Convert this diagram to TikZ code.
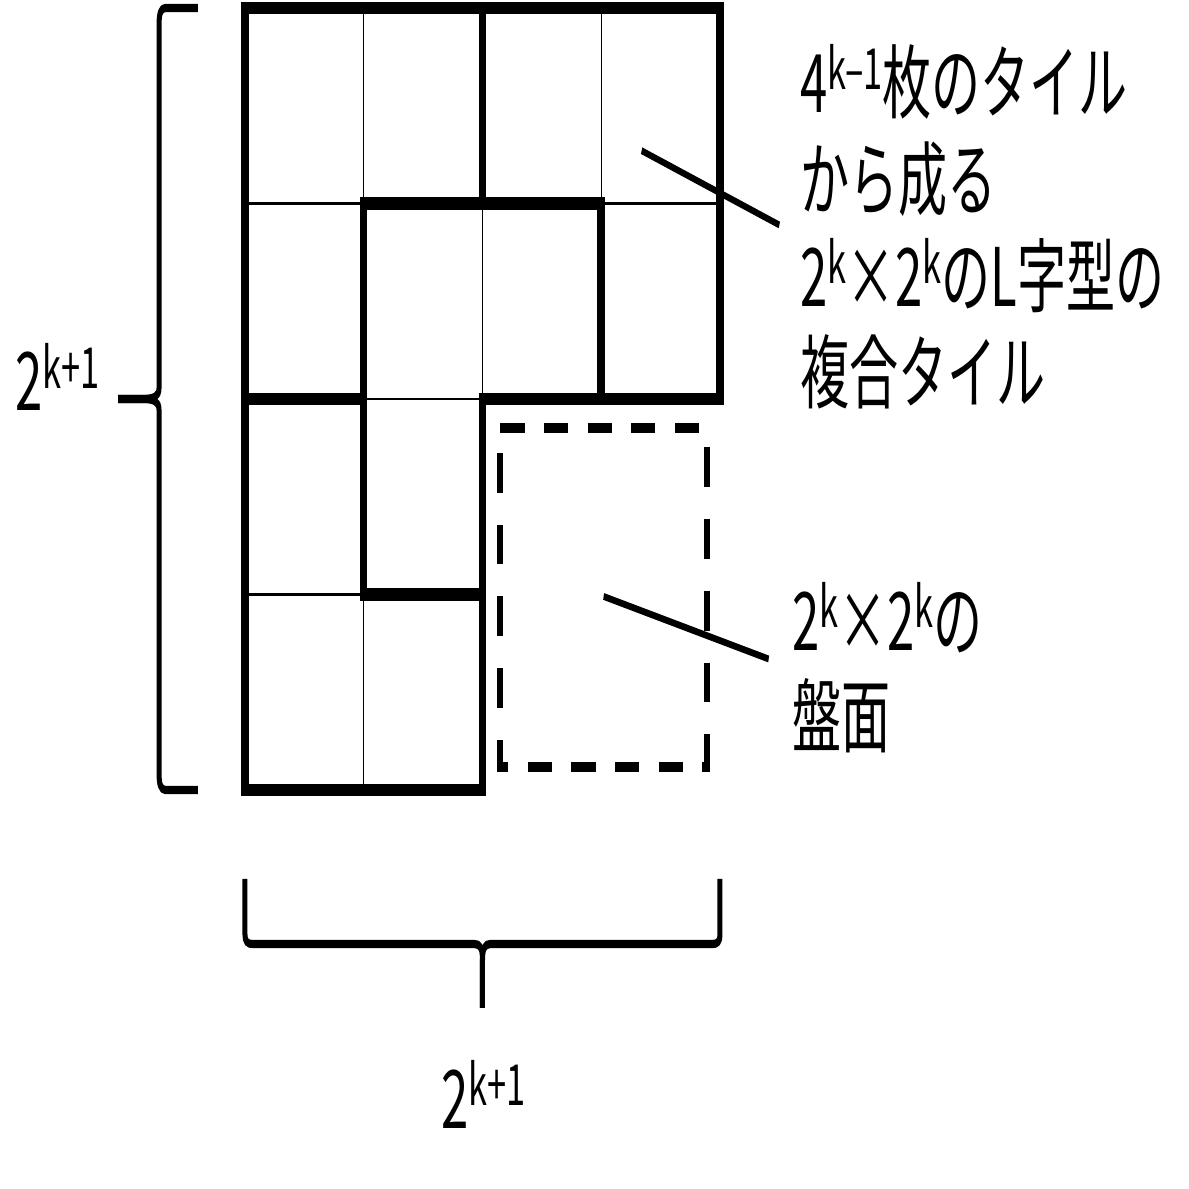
\documentclass[tikz,border=0pt]{standalone}
\usepackage{fontspec}
\setmainfont{Noto Sans CJK JP}
\usetikzlibrary{positioning}
\newcommand{\sups}[1]{\raisebox{6.5pt}{\fontsize{16.5}{16.5}\selectfont #1}}

\begin{document}
\begin{tikzpicture}[x=2cm, y=2cm,
    gridline/.style={line width=0.6pt},
    tileedge/.style={line width=3.6pt, line cap=rect, line join=miter},
    boardedge/.style={line width=2.9pt, dash pattern=on 11.6pt off 9.3pt},
    leader/.style={line width=2pt},
    bracepath/.style={line width=2.4pt, line join=round},
    lbl/.style={inner sep=0pt, font=\fontsize{23.5}{28.2}\selectfont, align=left}]
    \useasboundingbox (-1.2531,-2.0409) rectangle (4.8286,4.0409);
    \begin{scope}[transform canvas={xscale=0.6074}]
    \draw[gridline] (1,0) -- (1,4) (2,2) -- (2,4) (3,2) -- (3,4)
        (0,1) -- (2,1) (0,2) -- (2,2) (0,3) -- (4,3);
    \draw[tileedge] (0,0) -- (0,4) -- (4,4) -- (4,2) -- (2,2) -- (2,0) -- cycle;
    \draw[tileedge] (2,4) -- (2,3);
    \draw[tileedge] (0,2) -- (1,2) -- (1,3) -- (3,3) -- (3,2);
    \draw[tileedge] (1,2) -- (1,1) -- (2,1);
    \draw[boardedge] (2.15,1.85) -- (3.89,1.85) -- (3.89,0.12) -- (2.15,0.12) -- cycle;

    \node[lbl, anchor=base west] (ltile) at (4.674,1.98)
        {4\sups{k--1}枚のタイル\\から成る\\2\sups{k}×2\sups{k}のL字型の\\複合タイル};
    \node[lbl, anchor=base west] (board) at (4.606,0.22)
        {2\sups{k}×2\sups{k}の\\盤面};
    \coordinate (ltipin) at (3.34,3.27);
    \coordinate (ltipout) at (4.50,2.89);
    \coordinate (boardin) at (3.02,0.99);
    \coordinate (boardout) at (4.41,0.67);
    \draw[leader] (ltipin) -- (ltipout);
    \draw[leader] (boardin) -- (boardout);

    \coordinate (htip) at (-1.069,2);
    \draw[bracepath] (-0.396,4) -- (-0.67,4) .. controls (-0.71,4) and (-0.724,3.97) .. (-0.724,3.91)
        -- (-0.724,2.055) .. controls (-0.724,2.012) and (-0.77,2) .. (-0.86,2) -- (htip);
    \draw[bracepath] (-0.396,0) -- (-0.67,0) .. controls (-0.71,0) and (-0.724,0.03) .. (-0.724,0.09)
        -- (-0.724,1.945) .. controls (-0.724,1.988) and (-0.77,2) .. (-0.86,2) -- (htip);
    \node[lbl, anchor=base east] (hgt) at (-1.221,1.939) {2\sups{k+1}};

    \coordinate (wtip) at (2,-1.115);
    \draw[bracepath] (0,-0.455) -- (0,-0.74) .. controls (0,-0.775) and (0.02,-0.788) .. (0.065,-0.788)
        -- (1.935,-0.788) .. controls (1.98,-0.788) and (2,-0.81) .. (2,-0.87) -- (wtip);
    \draw[bracepath] (4,-0.455) -- (4,-0.74) .. controls (4,-0.775) and (3.98,-0.788) .. (3.935,-0.788)
        -- (2.065,-0.788) .. controls (2.02,-0.788) and (2,-0.81) .. (2,-0.87) -- (wtip);
    \node[lbl, anchor=base] (wid) at (2.01,-1.729) {2\sups{k+1}};
    \end{scope}
\end{tikzpicture}
\end{document}
